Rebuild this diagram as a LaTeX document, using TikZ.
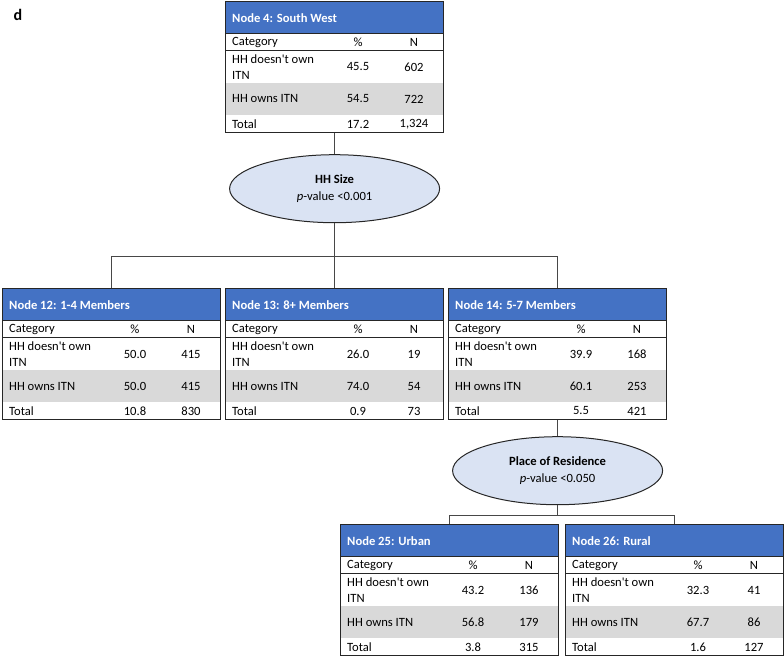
\documentclass[tikz,border=0pt]{standalone}
\usepackage{fontspec}
\setmainfont{Carlito}
\usetikzlibrary{calc,positioning,shapes.geometric}
\definecolor{HeadBlue}{HTML}{4472C4}
\definecolor{RowGray}{HTML}{D9D9D9}
\definecolor{SplitBlue}{HTML}{DAE3F3}
\definecolor{Edge}{HTML}{262626}
\newcommand{\bodyfont}{\fontsize{12.6}{16.7}\selectfont}
\tikzset{tbl/.style={draw=Edge,line width=1.2pt,minimum width=218pt,minimum height=131pt,inner sep=0pt},head/.style={anchor=west,text=white,font=\bodyfont\bfseries,inner sep=0pt},cell/.style={anchor=west,align=left,inner sep=0pt},num/.style={inner sep=0pt},split/.style={ellipse,draw=Edge,fill=SplitBlue,line width=1pt,minimum width=210pt,minimum height=68pt,align=center,inner sep=0pt},link/.style={draw=Edge!85,line width=.8pt}}
% one result table: name, top-left corner, title, then % and N of the three rows
\newcommand{\ntable}[9]{%
  \begin{scope}[shift={(#2)}]
    \fill[HeadBlue] (0,0) rectangle (218,32);
    \fill[RowGray] (0,82) rectangle (218,114);
    \draw[Edge,line width=.8pt] (0,32) -- (218,32) (0,49) -- (218,49);
    \node[tbl,anchor=north west] (#1) at (0,0) {};
    \node[head] (#1-t) at (7,17) {#3};
    \node[cell] (#1-c) at (7,41) {Category};
    \node[num] (#1-cp) at (133,41) {\%};
    \node[num] (#1-cn) at (189,41) {N};
    \node[cell] (#1-a) at (7,66) {HH doesn\textquotesingle t own\\ITN};
    \node[num] (#1-ap) at (133,66) {#4};
    \node[num] (#1-an) at (189,66) {#5};
    \node[cell] (#1-b) at (7,98) {HH owns ITN};
    \node[num] (#1-bp) at (133,98) {#6};
    \node[num] (#1-bn) at (189,98) {#7};
    \node[cell] (#1-z) at (7,123) {Total};
    \node[num] (#1-zp) at (133,123) {#8};
    \node[num] (#1-zn) at (189,123) {#9};
  \end{scope}}

\begin{document}
\begin{tikzpicture}[x=1pt,y=-1pt,font=\bodyfont]
      \useasboundingbox (0,0) rectangle (784,656);
      \node[font=\fontsize{16}{16}\selectfont\bfseries] (panel) at (18,15) {d};
      \ntable{n4}{225,1}{Node 4: South West}{45.5}{602}{54.5}{722}{17.2}{1,324}
      \node[split,below=21pt of n4] (hhsize) {\textbf{HH Size}\\\textit{p}-value <0.001};
      \ntable{n12}{2,288}{Node 12: 1-4 Members}{50.0}{415}{50.0}{415}{10.8}{830}
      \ntable{n13}{225,288}{Node 13: 8+ Members}{26.0}{19}{74.0}{54}{0.9}{73}
      \ntable{n14}{448,288}{Node 14: 5-7 Members}{39.9}{168}{60.1}{253}{5.5}{421}
      \node[split,below=16pt of n14] (residence) {\textbf{Place of Residence}\\\textit{p}-value <0.050};
      \ntable{n25}{340,524}{Node 25: Urban}{43.2}{136}{56.8}{179}{3.8}{315}
      \ntable{n26}{565,524}{Node 26: Rural}{32.3}{41}{67.7}{86}{1.6}{127}
      \coordinate (j1) at ($(hhsize.south)+(0,33)$);
      \coordinate (j2) at ($(residence.south)+(0,10)$);
      \draw[link] (n4.south)--(hhsize.north);\draw[link] (hhsize.south)--(j1);
      \draw[link] (n12.north)|-(j1)-|(n14.north);\draw[link] (n13.north)--(j1);
      \draw[link] (n14.south)--(residence.north);\draw[link] (residence.south)--(j2);
      \draw[link] (n25.north)|-(j2)-|(n26.north);
    \end{tikzpicture}
\end{document}
